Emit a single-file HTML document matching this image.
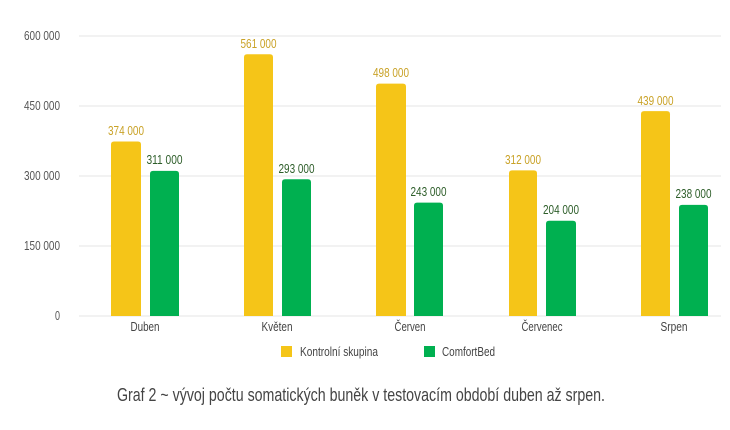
<!DOCTYPE html>
<html><head><meta charset="utf-8"><style>
body{margin:0;background:#fff;}
svg text{font-family:"Liberation Sans Narrow","Liberation Sans",sans-serif;}
</style></head><body>
<svg width="730" height="425" viewBox="0 0 730 425" xmlns="http://www.w3.org/2000/svg">
<g stroke="#eeeeee" stroke-width="1.5">
<line x1="79" x2="721" y1="36" y2="36"/><line x1="79" x2="721" y1="106" y2="106"/>
<line x1="79" x2="721" y1="176" y2="176"/><line x1="79" x2="721" y1="246" y2="246"/>
<line x1="79" x2="721" y1="316" y2="316"/></g>
<g font-size="13" fill="#555" text-anchor="end">
<text x="60" y="40" textLength="36" lengthAdjust="spacingAndGlyphs">600 000</text><text x="60" y="110" textLength="36" lengthAdjust="spacingAndGlyphs">450 000</text>
<text x="60" y="180" textLength="36" lengthAdjust="spacingAndGlyphs">300 000</text><text x="60" y="250" textLength="36" lengthAdjust="spacingAndGlyphs">150 000</text><text x="60" y="320" textLength="5" lengthAdjust="spacingAndGlyphs">0</text></g>
<g fill="#f5c518">
<path d="M111,316V144.5q0,-3 3,-3h24q3,0 3,3V316z"/>
<path d="M244,316V57.2q0,-3 3,-3h23q3,0 3,3V316z"/>
<path d="M376,316V86.6q0,-3 3,-3h24q3,0 3,3V316z"/>
<path d="M509,316V173.4q0,-3 3,-3h22q3,0 3,3V316z"/>
<path d="M641,316V114.1q0,-3 3,-3h23q3,0 3,3V316z"/></g>
<g fill="#00b050">
<path d="M150,316V173.9q0,-3 3,-3h23q3,0 3,3V316z"/>
<path d="M282,316V182.3q0,-3 3,-3h23q3,0 3,3V316z"/>
<path d="M414,316V205.6q0,-3 3,-3h23q3,0 3,3V316z"/>
<path d="M546,316V223.8q0,-3 3,-3h24q3,0 3,3V316z"/>
<path d="M679,316V207.9q0,-3 3,-3h23q3,0 3,3V316z"/></g>
<g font-size="13" fill="#c9a227" text-anchor="middle">
<text x="126" y="135" textLength="36" lengthAdjust="spacingAndGlyphs">374 000</text><text x="258.5" y="48" textLength="36" lengthAdjust="spacingAndGlyphs">561 000</text>
<text x="391" y="77" textLength="36" lengthAdjust="spacingAndGlyphs">498 000</text><text x="523" y="164" textLength="36" lengthAdjust="spacingAndGlyphs">312 000</text><text x="655.5" y="105" textLength="36" lengthAdjust="spacingAndGlyphs">439 000</text></g>
<g font-size="13" fill="#2e5e2a" text-anchor="middle">
<text x="164.5" y="164" textLength="36" lengthAdjust="spacingAndGlyphs">311 000</text><text x="296.5" y="173" textLength="36" lengthAdjust="spacingAndGlyphs">293 000</text>
<text x="428.5" y="196" textLength="36" lengthAdjust="spacingAndGlyphs">243 000</text><text x="561" y="214" textLength="36" lengthAdjust="spacingAndGlyphs">204 000</text><text x="693.5" y="198" textLength="36" lengthAdjust="spacingAndGlyphs">238 000</text></g>
<g font-size="13" fill="#444" text-anchor="middle">
<text x="145" y="331" textLength="29" lengthAdjust="spacingAndGlyphs">Duben</text><text x="277" y="331" textLength="31" lengthAdjust="spacingAndGlyphs">Květen</text><text x="410" y="331" textLength="31" lengthAdjust="spacingAndGlyphs">Červen</text>
<text x="542" y="331" textLength="41" lengthAdjust="spacingAndGlyphs">Červenec</text><text x="674" y="331" textLength="27" lengthAdjust="spacingAndGlyphs">Srpen</text></g>
<rect x="281" y="346" width="11" height="11" fill="#f5c518"/>
<rect x="424" y="346" width="11" height="11" fill="#00b050"/>
<g font-size="12.5" fill="#444"><text x="300" y="356" textLength="78" lengthAdjust="spacingAndGlyphs">Kontrolní skupina</text><text x="442" y="356" textLength="53" lengthAdjust="spacingAndGlyphs">ComfortBed</text></g>
<text x="361" y="401" font-size="18" fill="#444" text-anchor="middle" textLength="488" lengthAdjust="spacingAndGlyphs">Graf 2 ~ vývoj počtu somatických buněk v testovacím období duben až srpen.</text>
</svg>
</body></html>
